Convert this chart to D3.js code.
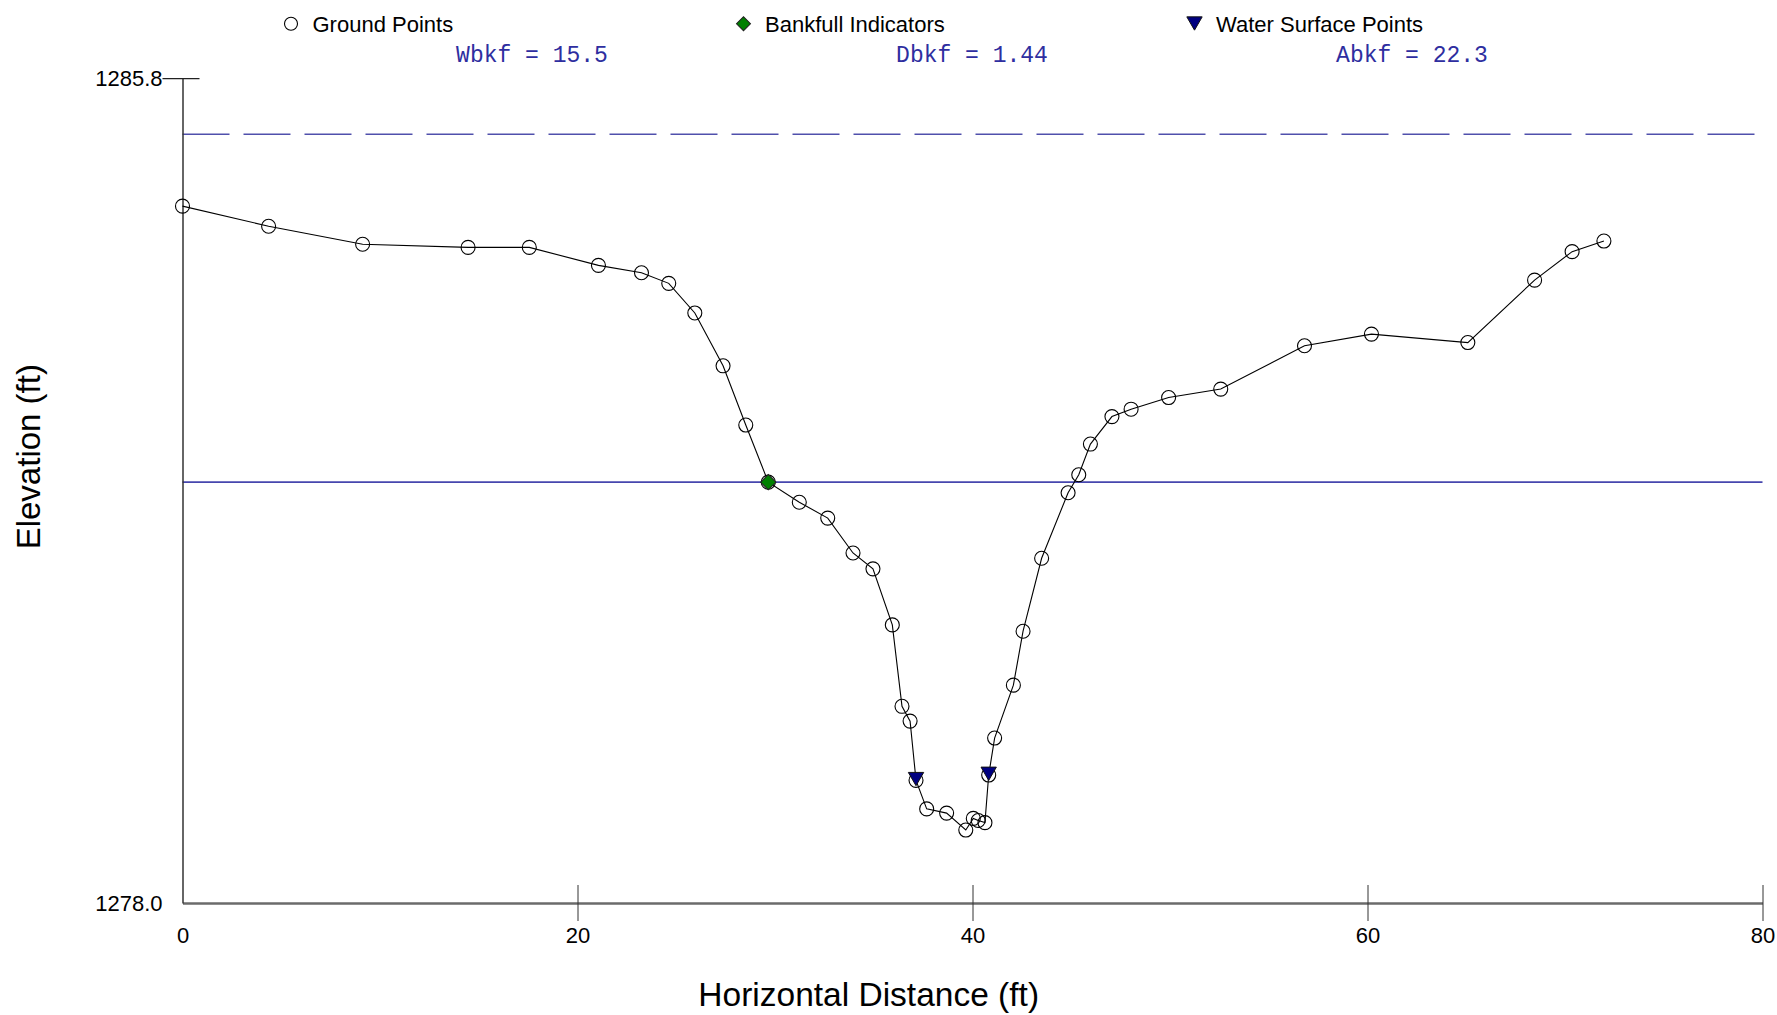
<!DOCTYPE html>
<html>
<head>
<meta charset="utf-8">
<script src="https://cdn.jsdelivr.net/npm/d3@7"></script>
<style>
  html, body { margin: 0; padding: 0; background: #ffffff; }
  svg { display: block; }
</style>
</head>
<body>
<script>
// ---- Data ----
const distance = [0, 4.36, 9.12, 14.46, 17.56, 21.06, 23.24, 24.62, 25.94, 27.37, 28.52, 29.66,
  31.23, 32.67, 33.95, 34.96, 35.94, 36.43, 36.84, 37.14, 37.68, 38.69, 39.66, 40.04, 40.29, 40.63,
  40.82, 41.12, 42.07, 42.56, 43.50, 44.84, 45.38, 45.97, 47.06, 48.03, 49.93, 52.57, 56.81, 60.20,
  65.08, 68.46, 70.36, 71.97];
const elevation = [1284.59, 1284.40, 1284.23, 1284.20, 1284.20, 1284.03, 1283.96, 1283.86, 1283.58,
  1283.08, 1282.52, 1281.98, 1281.79, 1281.64, 1281.31, 1281.16, 1280.63, 1279.86, 1279.72, 1279.16,
  1278.89, 1278.85, 1278.69, 1278.80, 1278.78, 1278.76, 1279.21, 1279.56, 1280.06, 1280.57, 1281.26,
  1281.88, 1282.05, 1282.34, 1282.60, 1282.67, 1282.78, 1282.86, 1283.27, 1283.38, 1283.30, 1283.89,
  1284.16, 1284.26];
const bankfullX = [29.66];
const bankfullY = [1281.98];
const waterX = [37.14, 40.82];
const waterY = [1279.16, 1279.21];
const bankfullElevation = 1281.98;
const floodProneElevation = 1285.27;
const xTicks = [0, 20, 40, 60, 80];
const yTicks = [1278.0, 1285.8];
const legendLabels = ["Ground Points", "Bankfull Indicators", "Water Surface Points"];
const statLabels = ["Wbkf = 15.5", "Dbkf = 1.44", "Abkf = 22.3"];
const xTitle = "Horizontal Distance (ft)";
const yTitle = "Elevation (ft)";

// ---- Layout ----
const W = 1777, H = 1015;
const plotLeft = 182.5, plotRight = 1762.5, plotTop = 78.2, plotBottom = 903;

const svg = d3.select("body").append("svg").attr("width", W).attr("height", H);

const x = d3.scaleLinear().domain([0, 80]).range([plotLeft, plotRight]);
const y = d3.scaleLinear().domain([1278.0, 1285.8]).range([plotBottom, plotTop]);

const sans = "Arial, 'Liberation Sans', sans-serif";
const mono = "'Courier New', 'Liberation Mono', monospace";

// Reference lines
svg.append("line")
  .attr("x1", x(0)).attr("x2", x(80))
  .attr("y1", y(floodProneElevation)).attr("y2", y(floodProneElevation))
  .attr("stroke", "#5050ac").attr("stroke-width", 1.6)
  .attr("stroke-dasharray", "47,14");
svg.append("line")
  .attr("x1", x(0)).attr("x2", x(80))
  .attr("y1", y(bankfullElevation)).attr("y2", y(bankfullElevation))
  .attr("stroke", "#4646ae").attr("stroke-width", 1.6);

// X axis
const xAxis = svg.append("g")
  .attr("transform", `translate(0,${plotBottom})`)
  .call(d3.axisBottom(x).tickValues(xTicks).tickFormat(d3.format("d")).tickSize(0).tickPadding(24));
xAxis.select(".domain").attr("stroke", "#6b6b6b").attr("stroke-width", 2.5);
xAxis.selectAll(".tick").append("line")
  .attr("y1", -18).attr("y2", 18).attr("stroke", "#333").attr("stroke-width", 1)
  .attr("opacity", d => d === 0 ? 0 : 1);
xAxis.selectAll(".tick text").attr("font-family", sans).attr("font-size", 22).attr("fill", "#000");

// Y axis
const yAxis = svg.append("g")
  .attr("transform", `translate(${plotLeft},0)`)
  .call(d3.axisLeft(y).tickValues(yTicks).tickFormat(d3.format(".1f")).tickSize(0).tickPadding(20));
yAxis.select(".domain").attr("stroke", "#333").attr("stroke-width", 1.5);
yAxis.selectAll(".tick").append("line")
  .attr("x1", -20).attr("x2", 17).attr("stroke", "#222").attr("stroke-width", 1.2)
  .attr("opacity", d => d === 1285.8 ? 1 : 0);
yAxis.selectAll(".tick text").attr("font-family", sans).attr("font-size", 22).attr("fill", "#000");

// Profile line
const pts = distance.map((d, i) => [d, elevation[i]]);
svg.append("path")
  .datum(pts)
  .attr("fill", "none").attr("stroke", "#000").attr("stroke-width", 1.1)
  .attr("d", d3.line().x(d => x(d[0])).y(d => y(d[1])));

// Ground points
svg.append("g").selectAll("circle").data(pts).join("circle")
  .attr("cx", d => x(d[0])).attr("cy", d => y(d[1])).attr("r", 7)
  .attr("fill", "none").attr("stroke", "#000").attr("stroke-width", 1.1);

// Symbols
const diamondPath = d3.symbol().type(d3.symbolSquare).size(118)();
const triPath = d3.symbol().type(d3.symbolTriangle).size(102)();

svg.append("g").selectAll("path").data(bankfullX.map((d, i) => [d, bankfullY[i]])).join("path")
  .attr("d", diamondPath)
  .attr("transform", d => `translate(${x(d[0])},${y(d[1])}) rotate(45)`)
  .attr("fill", "#008000").attr("stroke", "#222").attr("stroke-width", 1);

svg.append("g").selectAll("path").data(waterX.map((d, i) => [d, waterY[i]])).join("path")
  .attr("d", triPath)
  .attr("transform", d => `translate(${x(d[0])},${y(d[1]) - 3.5}) rotate(180)`)
  .attr("fill", "#000080").attr("stroke", "#111").attr("stroke-width", 1);

// Legend
const legendX = [291, 743.5, 1194.5];
const legendY = 23.8;
const lg = svg.append("g");
lg.append("circle").attr("cx", legendX[0]).attr("cy", legendY).attr("r", 6.5)
  .attr("fill", "none").attr("stroke", "#000").attr("stroke-width", 1.1);
lg.append("path").attr("d", d3.symbol().type(d3.symbolSquare).size(98)())
  .attr("transform", `translate(${legendX[1]},${legendY}) rotate(45)`)
  .attr("fill", "#008000").attr("stroke", "#222").attr("stroke-width", 1);
lg.append("path").attr("d", triPath)
  .attr("transform", `translate(${legendX[2]},${legendY - 2.5}) rotate(180)`)
  .attr("fill", "#000080").attr("stroke", "#111").attr("stroke-width", 1);
lg.selectAll("text").data(legendLabels).join("text")
  .attr("x", (d, i) => legendX[i] + 21.5).attr("y", legendY + 8)
  .attr("font-family", sans).attr("font-size", 22).attr("fill", "#000")
  .text(d => d);

// Stats
const statX = [532, 972, 1412];
svg.append("g").selectAll("text").data(statLabels).join("text")
  .attr("x", (d, i) => statX[i]).attr("y", 62)
  .attr("text-anchor", "middle")
  .attr("font-family", mono).attr("font-size", 23).attr("fill", "#2e2ea0")
  .text(d => d);

// Axis titles
svg.append("text")
  .attr("x", 868.7).attr("y", 1006)
  .attr("text-anchor", "middle")
  .attr("font-family", sans).attr("font-size", 33.5).attr("fill", "#000")
  .text(xTitle);
svg.append("text")
  .attr("transform", `translate(40,456.7) rotate(-90)`)
  .attr("text-anchor", "middle")
  .attr("font-family", sans).attr("font-size", 33).attr("fill", "#000")
  .text(yTitle);
</script>
</body>
</html>
